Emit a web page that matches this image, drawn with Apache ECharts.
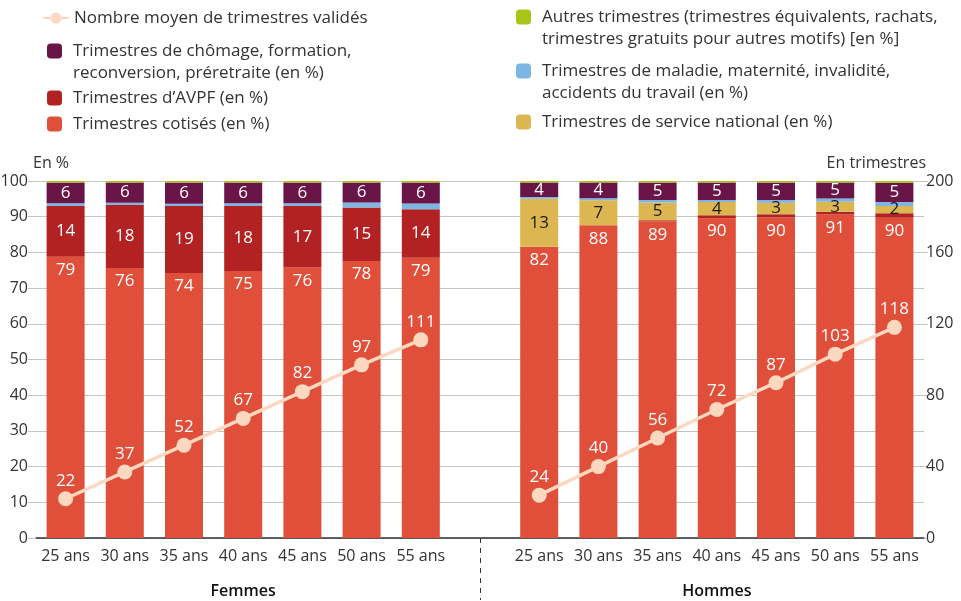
<!DOCTYPE html>
<html>
<head>
<meta charset="utf-8">
<script src="https://cdn.jsdelivr.net/npm/echarts@6/dist/echarts.min.js"></script>
<style>
  html, body { margin: 0; padding: 0; background: #fff; }
  #chart { width: 961px; height: 601px; }
</style>
</head>
<body>
<div id="chart"></div>
<script>
// tranches d'age, Femmes puis Hommes (une categorie vide entre les deux)
var ages = ['25 ans', '30 ans', '35 ans', '40 ans', '45 ans', '50 ans', '55 ans'];
var groupes = ['Femmes', 'Hommes'];

// parts en % (Femmes)
var fCotises  = [78.8, 75.6, 74.2, 74.8, 75.8, 77.6, 78.5];
var fAvpf     = [14.2, 17.7, 18.8, 18.2, 17.2, 15.0, 13.6];
var fService  = [0, 0, 0, 0, 0, 0, 0];
var fMaladie  = [0.8, 0.6, 0.6, 0.8, 0.8, 1.4, 1.6];
var fChomage  = [5.8, 5.7, 6.0, 5.8, 5.8, 5.6, 5.9];
var fAutres   = [0.4, 0.4, 0.4, 0.4, 0.4, 0.4, 0.4];
var fTrimestres = [22, 37, 52, 67, 82, 97, 111];

// parts en % (Hommes)
var hCotises  = [81.6, 87.6, 88.7, 89.6, 89.8, 90.6, 89.7];
var hAvpf     = [0, 0, 0.3, 0.8, 0.9, 0.8, 1.3];
var hService  = [13.4, 7.0, 5.0, 3.7, 3.2, 2.8, 2.0];
var hMaladie  = [0.5, 0.6, 0.7, 0.6, 0.8, 0.9, 1.1];
var hChomage  = [4.1, 4.4, 4.9, 4.9, 4.9, 4.5, 5.4];
var hAutres   = [0.4, 0.4, 0.4, 0.4, 0.4, 0.4, 0.5];
var hTrimestres = [24, 40, 56, 72, 87, 103, 118];

var categories = ages.concat(['']).concat(ages);
function joindre(f, h) { return f.concat(['-']).concat(h); }

var NOM_LIGNE = 'Nombre moyen de trimestres validés';
var NOM_CHOMAGE = 'Trimestres de chômage, formation,\nreconversion, préretraite (en %)';
var NOM_AVPF = 'Trimestres d\u2019AVPF (en %)';
var NOM_COTISES = 'Trimestres cotisés (en %)';
var NOM_AUTRES = 'Autres trimestres (trimestres équivalents, rachats,\ntrimestres gratuits pour autres motifs) [en %]';
var NOM_MALADIE = 'Trimestres de maladie, maternité, invalidité,\naccidents du travail (en %)';
var NOM_SERVICE = 'Trimestres de service national (en %)';

var police = '"Open Sans", Lato, sans-serif';

function labelBarre(couleur, pos) {
    return {
        show: true,
        position: pos || 'inside',
        distance: 5,
        color: couleur,
        fontSize: 17,
        fontFamily: police,
        formatter: function (p) {
            if (p.value === '-' || p.value < 1.5) return '';
            return Math.round(p.value);
        }
    };
}

function barre(nom, f, h, couleur, couleurLabel, pos) {
    return {
        name: nom,
        type: 'bar',
        stack: 'total',
        barWidth: 38,
        itemStyle: { color: couleur },
        label: couleurLabel ? labelBarre(couleurLabel, pos) : { show: false },
        data: joindre(f, h)
    };
}

// une legende par entree, l'icone alignee sur la premiere ligne du texte
function legende(nom, left, top, deuxLignes, isLine) {
    return {
        data: [nom],
        left: left,
        top: top,
        padding: 0,
        itemWidth: isLine ? 26 : 15,
        itemHeight: isLine ? 14 : 15,
        selectedMode: false,
        formatter: function (n) { return deuxLignes ? '\n' + n : n; },
        textStyle: {
            fontSize: 17,
            fontFamily: police,
            color: '#333',
            lineHeight: 22,
            padding: [0, 0, 0, isLine ? 0 : 6]
        }
    };
}

var chart = echarts.init(document.getElementById('chart'));

var option = {
    animation: false,
    textStyle: { fontFamily: police },
    legend: [
        legende(NOM_LIGNE, 42, 7, false, true),
        legende(NOM_CHOMAGE, 47, 18, true),
        legende(NOM_AVPF, 47, 87, false),
        legende(NOM_COTISES, 47, 113, false),
        legende(NOM_AUTRES, 516, -16, true),
        legende(NOM_MALADIE, 516, 38, true),
        legende(NOM_SERVICE, 516, 111, false)
    ],
    grid: { left: 36, right: 37, top: 181, bottom: 63, outerBoundsMode: 'none' },
    xAxis: [{
        type: 'category',
        data: categories,
        axisLine: { lineStyle: { color: '#333', width: 1.5 } },
        axisTick: {
            show: true,
            alignWithLabel: true,
            interval: function (i) { return i === 7; },
            length: 62,
            lineStyle: { color: '#333', type: [5, 5] }
        },
        axisLabel: { color: '#333', fontSize: 16, margin: 10, interval: 0 }
    }, {
        type: 'category',
        position: 'bottom',
        offset: 37,
        data: categories.map(function (c, i) {
            return i === 3 ? groupes[0] : (i === 11 ? groupes[1] : '');
        }),
        axisLine: { show: false },
        axisTick: { show: false },
        axisLabel: { color: '#111', fontSize: 16, fontWeight: 600, interval: 0 }
    }],
    yAxis: [{
        type: 'value',
        min: 0, max: 100, interval: 10,
        name: 'En %',
        nameLocation: 'end',
        nameGap: 10,
        nameTextStyle: { color: '#333', fontSize: 16, align: 'left', padding: [0, 0, 0, -3] },
        axisLine: { show: false },
        axisTick: { show: true, length: 8, lineStyle: { color: '#c4c4c4' } },
        axisLabel: { color: '#333', fontSize: 16, margin: 8 },
        splitLine: { lineStyle: { color: '#c4c4c4' } }
    }, {
        type: 'value',
        min: 0, max: 200, interval: 40,
        name: 'En trimestres',
        nameLocation: 'end',
        nameGap: 10,
        nameTextStyle: { color: '#333', fontSize: 16, align: 'right', padding: [0, -2, 0, 0] },
        axisLine: { show: false },
        axisTick: { show: true, length: 4, lineStyle: { color: '#c4c4c4' } },
        axisLabel: { color: '#333', fontSize: 16, margin: 2 },
        splitLine: { show: false }
    }],
    series: [
        barre(NOM_COTISES, fCotises, hCotises, '#e04f39', '#fff', 'insideTop'),
        barre(NOM_AVPF, fAvpf, hAvpf, '#b22222', '#fff'),
        barre(NOM_SERVICE, fService, hService, '#dcb650', '#1a1a1a'),
        barre(NOM_MALADIE, fMaladie, hMaladie, '#7db5e3', null),
        barre(NOM_CHOMAGE, fChomage, hChomage, '#6a1548', '#fff'),
        barre(NOM_AUTRES, fAutres, hAutres, '#a9c417', null),
        {
            name: NOM_LIGNE,
            type: 'line',
            yAxisIndex: 1,
            z: 5,
            symbol: 'circle',
            symbolSize: 15,
            connectNulls: false,
            itemStyle: { color: '#fcd8c0' },
            lineStyle: { color: '#fcd8c0', width: 3.5 },
            label: {
                show: true,
                position: 'top',
                distance: 2,
                color: '#fff',
                fontSize: 17,
                fontFamily: police
            },
            data: joindre(fTrimestres, hTrimestres)
        }
    ]
};

chart.setOption(option);
</script>
</body>
</html>
